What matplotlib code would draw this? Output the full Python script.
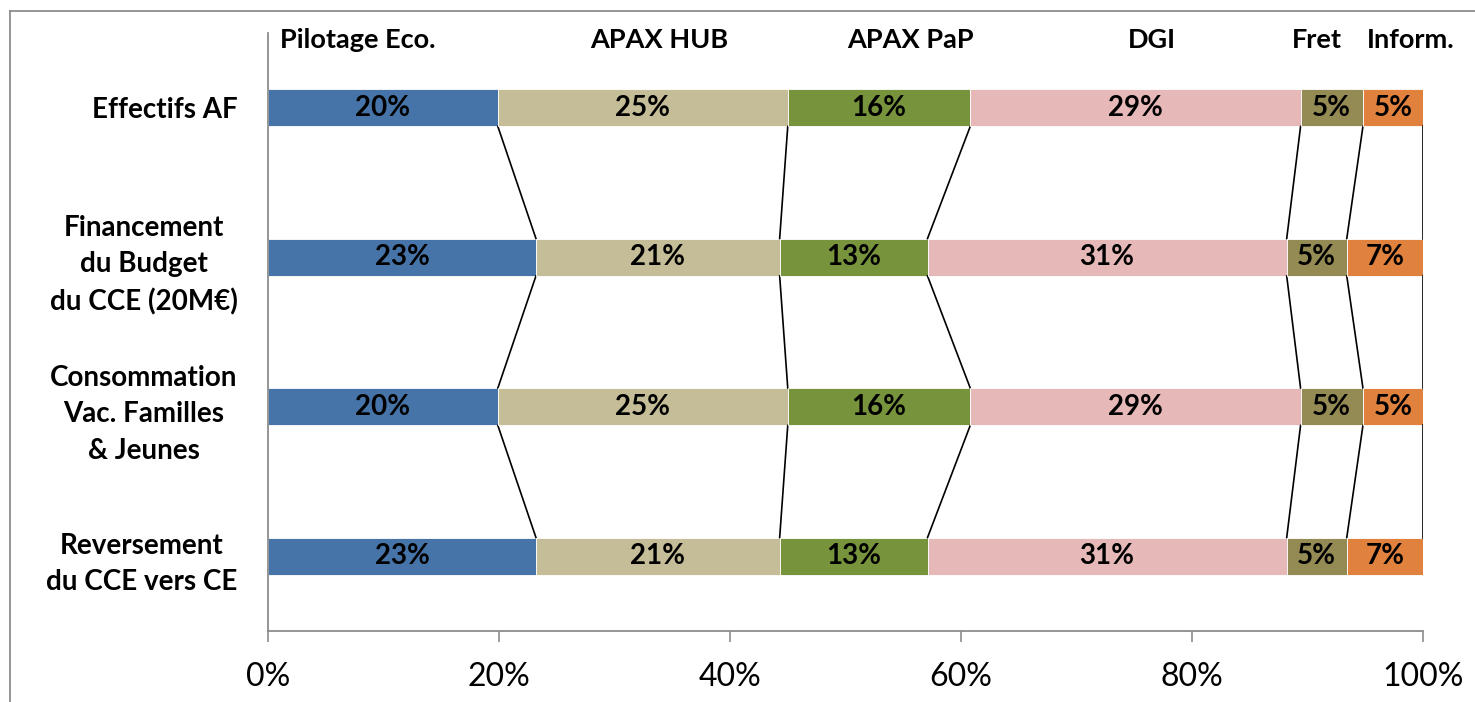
import matplotlib.pyplot as plt
import numpy as np
from matplotlib.lines import Line2D

plt.rcParams['font.family'] = ['Lato', 'DejaVu Sans']

categories = ['Effectifs AF', 'Financement\ndu Budget\ndu CCE (20M€)',
              'Consommation\nVac. Familles\n& Jeunes', 'Reversement\ndu CCE vers CE']
series = ['Pilotage Eco.', 'APAX HUB', 'APAX PaP', 'DGI', 'Fret', 'Inform.']
# share of each series per category, in %
values = np.array([
    [19.9, 25.1, 15.8, 28.6, 5.4, 5.2],
    [23.2, 21.1, 12.8, 31.1, 5.2, 6.6],
    [19.9, 25.1, 15.8, 28.6, 5.4, 5.2],
    [23.2, 21.1, 12.8, 31.1, 5.2, 6.6],
])
ticks = [0, 20, 40, 60, 80, 100]

colors = ['#4674A8', '#C4BD97', '#77933C', '#E6B9B8', '#948A54', '#E0823D']
name_x = [7.8, 33.9, 55.6, 76.5, 90.8, 98.9]

fig = plt.figure(figsize=(14.75, 7.02), dpi=100)
ax = fig.add_axes([268 / 1475, 71 / 702, 1155 / 1475, 598 / 702])

y = np.arange(len(categories))
h = 0.25
left = np.zeros(len(categories))
for j, name in enumerate(series):
    ax.barh(y, values[:, j], left=left, height=h, color=colors[j],
            edgecolor='white', linewidth=0.6)
    for i in range(len(categories)):
        ax.text(left[i] + values[i, j] / 2, y[i], '%.0f%%' % values[i, j],
                ha='center', va='center', fontsize=20, fontweight='bold')
    left = left + values[:, j]
    # series lines between consecutive bars
    for i in range(len(categories) - 1):
        ax.plot([left[i], left[i + 1]], [y[i] + h / 2, y[i + 1] - h / 2],
                color='black', lw=1.2, zorder=1)

for j, name in enumerate(series):
    ax.text(name_x[j], -0.45, name, ha='center', va='center',
            fontsize=19.5, fontweight='bold')

ax.set_xlim(0, 100)
ax.set_ylim(3.5, -0.5)
ax.set_yticks(y)
ax.set_yticklabels(categories, fontsize=20, fontweight='bold',
                   multialignment='center', linespacing=1.5)
ax.tick_params(axis='y', length=0, pad=22)
ax.set_xticks(ticks)
ax.set_xticklabels(['%d%%' % t for t in ticks], fontsize=23)
ax.tick_params(axis='x', length=8, width=1.2, color='#8c8c8c', pad=14)
for s in ['top', 'right']:
    ax.spines[s].set_visible(False)
for s in ['left', 'bottom']:
    ax.spines[s].set_color('#8c8c8c')
    ax.spines[s].set_linewidth(1.3)

# outer chart frame (cut by the image edges)
fig.add_artist(Line2D([9.5 / 1475, 9.5 / 1475], [0, 1 - 10.5 / 702],
                      transform=fig.transFigure, color='#8c8c8c', lw=1.3))
fig.add_artist(Line2D([9.5 / 1475, 1], [1 - 10.5 / 702, 1 - 10.5 / 702],
                      transform=fig.transFigure, color='#8c8c8c', lw=1.3))

fig.savefig('out.png', dpi=100)
